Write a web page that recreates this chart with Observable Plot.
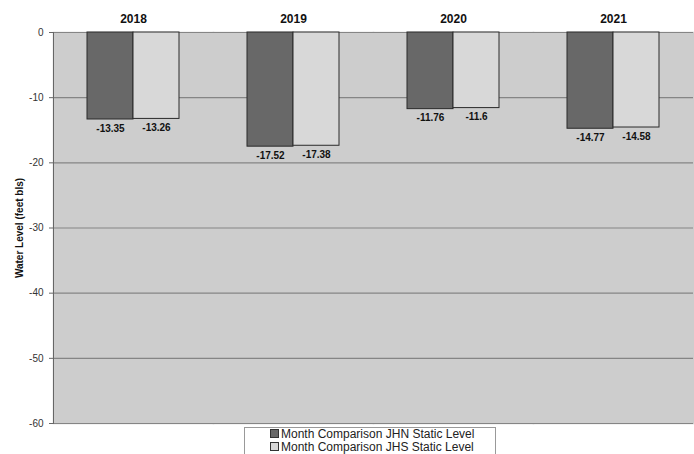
<!DOCTYPE html>
<html>
<head>
<meta charset="utf-8">
<script src="https://cdn.jsdelivr.net/npm/d3@7"></script>
<script src="https://cdn.jsdelivr.net/npm/@observablehq/plot@0.6"></script>
<style>
  body { margin: 0; background: #fff; font-family: "Liberation Sans", Arial, sans-serif; }
  #chart svg { display: block; }
  #legend { position: relative; margin-top: -1px; margin-left: 244px; width: 252px; border: 1px solid #999; background: #fff;
            font-size: 12px; color: #222; padding: 0 0 0 25px; box-sizing: border-box; line-height: 13px; }
  #legend .sw { display: inline-block; width: 7px; height: 7px; border: 1px solid #333; margin-right: 2px; vertical-align: 0px; }
</style>
</head>
<body>
<div id="chart"></div>
<div id="legend"></div>
<script>
const years = ["2018", "2019", "2020", "2021"];
const seriesNames = ["Month Comparison JHN Static Level", "Month Comparison JHS Static Level"];
const jhnValues = [-13.35, -17.52, -11.76, -14.77];
const jhsValues = [-13.26, -17.38, -11.6, -14.58];
const yTicks = [-60, -50, -40, -30, -20, -10, 0];
const seriesColors = ["#686868", "#d8d8d8"];

const data = [];
years.forEach((y, i) => {
  data.push({year: y, series: seriesNames[0], value: jhnValues[i]});
  data.push({year: y, series: seriesNames[1], value: jhsValues[i]});
});

const chart = Plot.plot({
  width: 694,
  height: 428,
  marginLeft: 51,
  marginRight: 0,
  marginTop: 32,
  marginBottom: 5,
  style: {fontFamily: "Liberation Sans, Arial, sans-serif", background: "#fff"},
  fx: {domain: years, padding: 0, label: null},
  x: {domain: seriesNames, paddingInner: 0, paddingOuter: 0.72, axis: null},
  y: {domain: [-60, 0], label: null},
  color: {domain: seriesNames, range: seriesColors},
  marks: [
    Plot.frame({fill: "#cdcdcd", stroke: "#cdcdcd", strokeWidth: 1.5}),
    Plot.ruleY(yTicks, {stroke: "#858585", strokeWidth: 1.2}),
    Plot.frame({anchor: "left", stroke: "#666", facetAnchor: "left"}),
    Plot.axisFx({anchor: "top", tickSize: 0, tickPadding: 10, fontWeight: "bold", fontSize: 12, fill: "#111", label: null}),
    Plot.axisY({ticks: yTicks, tickFormat: d => String(d), tickSize: 4, tickPadding: 6, fontSize: 10, fill: "#333", stroke: "#666",
      label: "Water Level (feet bls)", labelAnchor: "center", labelArrow: "none", labelOffset: 38, facetAnchor: "left"}),
    Plot.barY(data, {fx: "year", x: "series", y: "value", fill: "series", stroke: "#2a2a2a", strokeWidth: 1}),
    Plot.text(data, {fx: "year", x: "series", y: "value", text: d => String(d.value), dy: 9,
      fontWeight: "bold", fontSize: 10, fill: "#111"})
  ]
});
chart.querySelectorAll("g[aria-label='y-axis label'] text, g[aria-label='y-axis label']").forEach(el => {
  el.setAttribute("font-weight", "bold");
  el.setAttribute("fill", "#111");
});
document.getElementById("chart").appendChild(chart);

const legend = document.getElementById("legend");
seriesNames.forEach((name, i) => {
  const row = document.createElement("div");
  const sw = document.createElement("span");
  sw.className = "sw";
  sw.style.background = seriesColors[i];
  row.appendChild(sw);
  row.appendChild(document.createTextNode(name));
  legend.appendChild(row);
});
</script>
</body>
</html>
